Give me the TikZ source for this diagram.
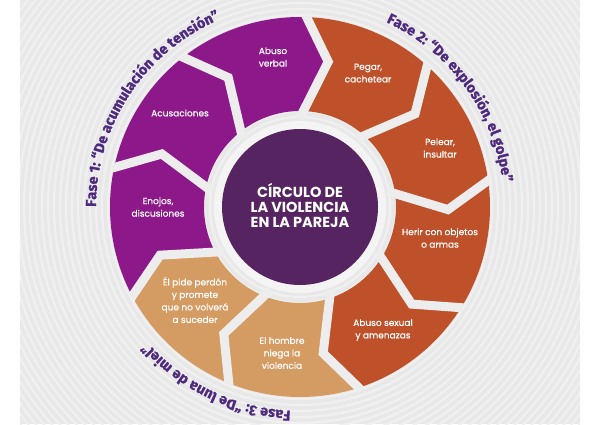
\documentclass[tikz,border=0pt]{standalone}
\usepackage{fontspec}
\setmainfont{Poppins}
\newfontfamily\segfont[FakeBold=0.6]{Poppins}
\newfontfamily\phasefont[BoldFeatures={FakeBold=1.2}]{Fira Sans}
\usetikzlibrary{decorations.text,calc}
\definecolor{segP}{HTML}{8C1889}
\definecolor{segO}{HTML}{BE502A}
\definecolor{segT}{HTML}{D49B62}
\definecolor{ctr}{HTML}{562460}
\definecolor{phase}{HTML}{4E2A7E}
\definecolor{bgray}{HTML}{E8E8E8}
\definecolor{bline}{HTML}{F0F0F0}
\definecolor{gapc}{HTML}{EDEDED}
\definecolor{ringc}{HTML}{F4F4F4}
\tikzset{
  segtext/.style={font=\segfont\fontsize{9}{12.5}\selectfont, align=center, text=white, inner sep=0pt},
  ctrtext/.style={font=\fontsize{14.5}{15}\selectfont\bfseries, align=center, text=white, inner sep=0pt},
  gapline/.style={draw=gapc, line width=9pt, line join=miter},
  phasedeco/.style={decorate, decoration={text along path, text align=center, text color=phase, text={|\phasefont\bfseries\fontsize{14.5}{15}\selectfont|#1}}}
}
\newcommand\mysegment[2]{%
  \fill[#2] (#1:190) arc[start angle=#1, delta angle=-40, radius=190]
    -- (#1-49:148) -- (#1-40:96) arc[start angle=#1-40, delta angle=40, radius=96]
    -- (#1-9:148) -- cycle;}
\begin{document}
\begin{tikzpicture}[x=1pt,y=1pt]
\useasboundingbox (0,0) rectangle (600,424);
\fill[white] (0,0) rectangle (600,424);
\fill[bgray] (20,0) rectangle (580,424);
\coordinate (c) at (300,217);
\begin{scope}
  \clip (20,0) rectangle (580,424);
  \foreach \r in {84,90,...,432} \draw[bline, line width=2.2pt] (c) circle[radius=\r];
\end{scope}
\begin{scope}[shift={(c)}]
  % segments
  \mysegment{128}{segP}
  \mysegment{88}{segO}
  \mysegment{48}{segO}
  \mysegment{8}{segO}
  \mysegment{-32}{segO}
  \mysegment{-72}{segT}
  \mysegment{-112}{segT}
  \mysegment{-152}{segP}
  \mysegment{-192}{segP}
  % gaps
  \begin{scope}
    \clip (0,0) circle[radius=190.5];
    \foreach \a in {128,88,48,8,-32,-72,-112,-152,-192}
      \draw[gapline] ($(\a-9:148)!1.2!(\a:190)$) -- (\a-9:148) -- ($(\a-9:148)!1.15!(\a:96)$);
  \end{scope}
  % centre
  \fill[ringc] (0,0) circle[radius=86];
  \fill[ctr] (0,0) circle[radius=78];
  % phase labels
  \path[phasedeco={Fase 1: “De acumulación de tensión”}] (196.5:204) arc[start angle=196.5, end angle=96.5, radius=204];
  \path[phasedeco={Fase 2: “De explosión, el golpe”}] (86:204) arc[start angle=86, end angle=-14, radius=204];
  \path[phasedeco={Fase 3: “De luna de miel”}] (-65.5:204) arc[start angle=-65.5, end angle=-165.5, radius=204];
\end{scope}
\node[ctrtext] (centre) at (300,219) {CÍRCULO DE\\LA VIOLENCIA\\EN LA PAREJA};
\node[segtext] (abverbal) at (273,367) {Abuso\\verbal};
\node[segtext] (pegar) at (368,351) {Pegar,\\cachetear};
\node[segtext] (pelear) at (440,276) {Pelear,\\insultar};
\node[segtext] (herir) at (440,186) {Herir con objetos\\o armas};
\node[segtext] (absexual) at (383,94) {Abuso sexual\\y amenazas};
\node[segtext] (hombre) at (282,71) {El hombre\\niega la\\violencia};
\node[segtext] (pide) at (195,124) {Él pide perdón\\y promete\\que no volverá\\a suceder};
\node[segtext] (enojos) at (158,217) {Enojos,\\discusiones};
\node[segtext] (acus) at (180,311) {Acusaciones};
\end{tikzpicture}
\end{document}
